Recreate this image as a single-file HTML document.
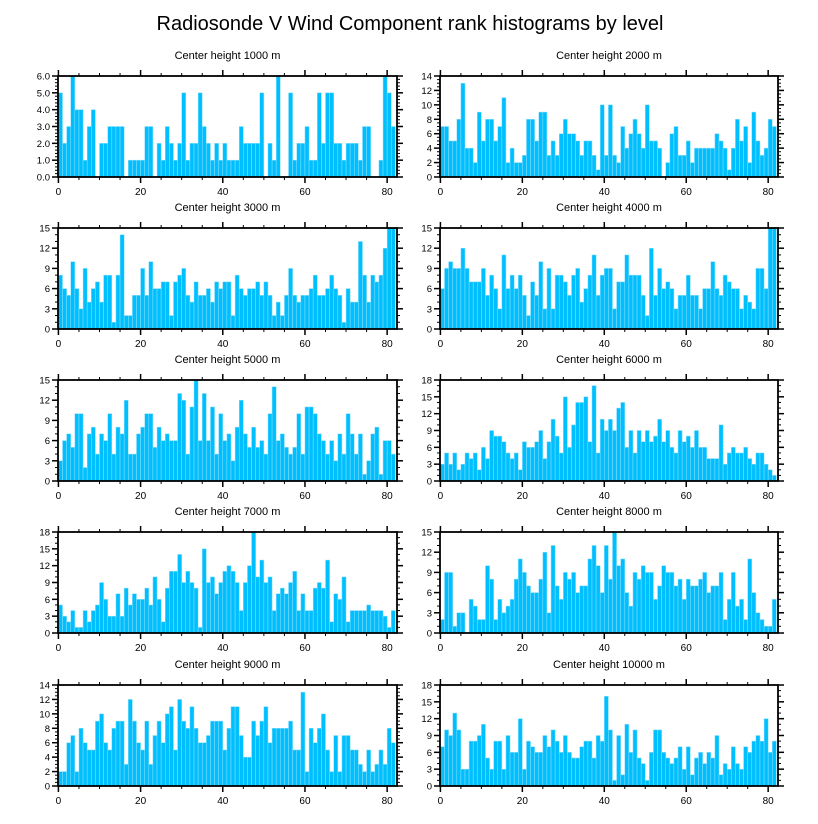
<!DOCTYPE html>
<html><head><meta charset="utf-8"><style>
body{margin:0;background:#fff;}
svg{display:block;font-family:"Liberation Sans",sans-serif;}
</style></head><body>
<svg id="chart" width="818" height="824" viewBox="0 0 818 824">
<text x="410" y="30" text-anchor="middle" font-size="20">Radiosonde V Wind Component rank histograms by level</text>
</svg>
<script>
const levels = ["1000","2000","3000","4000","5000","6000","7000","8000","9000","10000"];
const yMaxes = [6,14,15,15,15,18,18,15,14,18];
const ySteps = [1,2,3,3,3,3,3,3,2,3];
const xTicks = [0,20,40,60,80];
const counts1000 = [5,2,3,6,4,4,1,3,4,0,2,2,3,3,3,3,0,1,1,1,1,3,3,0,2,1,3,2,1,2,5,1,2,2,5,3,2,1,2,1,2,1,1,1,3,2,2,2,2,5,0,2,1,6,0,0,5,1,2,2,3,1,1,5,2,5,5,2,2,1,2,2,2,1,3,3,0,0,1,6,5,3];
const counts2000 = [7,7,5,5,8,13,4,4,2,9,5,8,8,5,7,11,2,4,2,2,3,8,8,5,9,9,3,5,3,6,8,6,6,5,3,5,5,3,1,10,3,10,3,2,7,4,6,8,6,4,10,5,5,4,0,2,6,7,3,3,5,2,4,4,4,4,4,6,5,4,1,4,8,5,7,2,9,5,3,4,8,7];
const counts3000 = [8,6,5,10,6,3,9,4,6,7,4,8,8,1,8,14,2,2,5,5,9,5,10,6,6,7,7,2,7,8,9,5,4,7,5,5,6,4,7,6,7,7,2,8,6,5,6,6,7,5,7,5,2,4,2,5,9,5,4,5,5,6,8,5,5,6,8,6,5,1,6,4,4,13,8,4,8,7,8,12,15,15];
const counts4000 = [6,9,10,9,9,12,9,7,7,7,9,5,8,6,3,11,6,8,6,8,5,2,7,5,10,3,9,3,8,8,7,5,8,9,4,6,8,11,5,8,9,9,3,7,7,11,8,8,8,5,2,12,5,9,6,7,6,3,5,5,8,5,5,3,6,6,10,6,5,8,7,6,6,3,5,4,3,9,9,6,15,15];
const counts5000 = [3,6,7,5,10,10,2,7,8,4,7,6,10,4,8,7,12,4,4,7,8,10,10,5,8,6,7,6,6,13,12,4,11,15,6,13,6,11,4,10,6,7,3,8,12,7,5,8,5,6,4,10,14,6,7,5,4,5,10,4,11,11,10,7,6,4,6,3,7,4,10,7,4,7,1,3,7,8,1,6,6,4];
const counts6000 = [3,5,3,5,2,3,5,4,5,2,6,4,9,8,8,7,5,4,5,2,7,6,6,7,9,4,7,11,8,5,15,6,10,14,14,15,7,17,5,11,9,11,9,13,14,6,9,5,9,7,9,7,8,11,7,9,6,5,9,7,8,6,9,6,6,4,4,4,10,3,5,6,5,5,6,4,3,5,5,3,2,1];
const counts7000 = [5,3,2,4,1,1,4,2,4,5,9,6,3,3,7,3,8,5,7,6,6,8,5,10,6,2,8,11,11,14,9,11,9,8,1,15,9,10,7,9,11,12,11,9,4,9,12,18,10,13,9,10,4,7,8,7,9,11,4,7,4,4,8,9,8,13,2,7,6,10,2,4,4,4,4,5,4,4,4,3,1,4];
const counts8000 = [2,9,9,1,3,3,0,5,4,2,2,10,8,2,5,3,4,5,8,11,9,7,6,6,8,12,3,13,7,5,9,8,9,6,7,7,11,13,10,6,13,8,15,10,11,6,4,9,8,10,9,9,5,7,10,9,9,7,8,5,8,7,7,8,9,6,7,7,9,2,5,9,4,5,2,11,6,3,2,1,1,5];
const counts9000 = [2,2,6,7,2,8,6,5,5,9,10,6,5,8,9,9,3,12,9,6,5,9,3,7,9,6,10,11,5,12,9,8,11,8,6,6,7,9,9,9,5,8,11,11,7,4,4,9,7,9,11,6,8,8,8,8,9,5,5,13,2,8,6,8,10,5,2,7,2,7,7,5,5,3,2,5,2,3,5,3,8,6];
const counts10000 = [7,10,9,13,10,3,3,8,8,9,11,5,3,8,8,3,9,6,6,12,3,8,7,6,6,9,7,10,8,6,9,6,5,5,7,8,8,5,9,8,16,10,1,9,2,11,6,10,5,4,1,6,10,10,6,5,4,5,7,3,7,2,5,6,4,6,5,9,2,4,3,7,4,3,7,6,8,9,8,12,6,8];
const allCounts = [counts1000,counts2000,counts3000,counts4000,counts5000,counts6000,counts7000,counts8000,counts9000,counts10000];

const NS = "http://www.w3.org/2000/svg";
const svg = document.getElementById("chart");
function mk(tag, attrs, parent){
  const e = document.createElementNS(NS, tag);
  for (const k in attrs) e.setAttribute(k, attrs[k]);
  parent.appendChild(e);
  return e;
}
const colL=[58,440], colR=[397,778], rowTop=[76,228,380,532,685], H=101, XMIN=-0.1, XMAX=82.4;

allCounts.forEach((data, p) => {
  const col = p % 2, row = Math.floor(p/2);
  const x0 = colL[col], x1 = colR[col], y0 = rowTop[row], y1 = y0 + H;
  const yMax = yMaxes[p], step = ySteps[p];
  const xs = v => x0 + (v - XMIN) / (XMAX - XMIN) * (x1 - x0);
  const ys = v => y1 - v / yMax * H;
  const g = mk("g", {}, svg);
  
  
  const t = mk("text", {x:(x0+x1)/2, y:y0-17, "text-anchor":"middle", "font-size":"11"}, g);
  t.textContent = "Center height " + levels[p] + " m";
  
  
  data.forEach((v, i) => {
    if (v <= 0) return;
    const r = mk("rect", {x:xs(i), y:ys(v), width:xs(i+1)-xs(i), height:y1-ys(v), fill:"#00bfff", stroke:"#8fe0ff", "stroke-width":"0.5"}, g);
    
    
  });
  const fr = mk("rect", {x:x0, y:y0, width:x1-x0, height:H, fill:"none", stroke:"#000", "stroke-width":"1.8"}, g);
  
  
  // x ticks
  for (let v = 0; v <= 80; v += 5) {
    const major = v % 20 === 0, L = major ? 6 : 3;
    mk("line", {x1:xs(v), x2:xs(v), y1:y1, y2:y1+L, stroke:"#000", "stroke-width":major?1.5:1}, g);
    mk("line", {x1:xs(v), x2:xs(v), y1:y0, y2:y0-L, stroke:"#000", "stroke-width":major?1.5:1}, g);
  }
  xTicks.forEach(v => {
    const lt = mk("text", {x:xs(v), y:y1+18, "text-anchor":"middle", "font-size":"10"}, g);
    lt.textContent = v;
    
    
  });
  // y ticks
  const minor = step / (step === 3 ? 3 : (step === 1 ? 5 : 4));
  for (let k = 0; k <= Math.round(yMax/minor); k++) {
    const v = k*minor, major = Math.abs(v/step - Math.round(v/step)) < 1e-6, L = major ? 6 : 3;
    mk("line", {x1:x0, x2:x0-L, y1:ys(v), y2:ys(v), stroke:"#000", "stroke-width":major?1.5:1}, g);
    mk("line", {x1:x1, x2:x1+L, y1:ys(v), y2:ys(v), stroke:"#000", "stroke-width":major?1.5:1}, g);
  }
  for (let v = 0; v <= yMax + 1e-9; v += step) {
    const lt = mk("text", {x:x0-8, y:ys(v)+3.5, "text-anchor":"end", "font-size":"9.5"}, g);
    lt.textContent = yMax === 6 ? v.toFixed(1) : v;
    
    
  }
});
</script>
</body></html>
